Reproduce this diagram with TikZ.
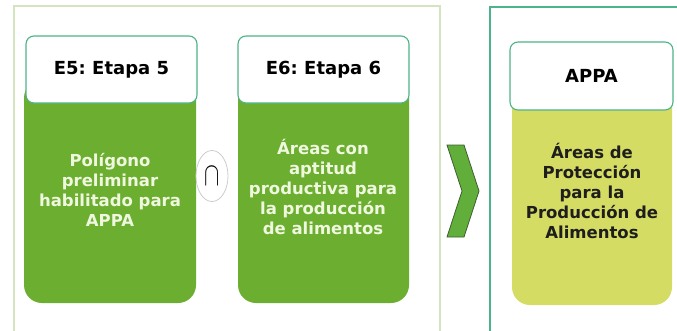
\documentclass[tikz,border=0pt]{standalone}
\usepackage{fontspec}
\setmainfont{DejaVu Sans}
\usetikzlibrary{shapes.geometric}
\frenchspacing
\definecolor{bodygreen}{HTML}{6BAE30}
\definecolor{bodyyellow}{HTML}{D5DC63}
\definecolor{hdrline}{HTML}{4DB387}
\definecolor{frameA}{HTML}{D3E4BE}
\definecolor{frameB}{HTML}{4DB38A}
\definecolor{chevfill}{HTML}{62AE3A}
\definecolor{chevline}{HTML}{3E5E30}
\definecolor{lighttext}{HTML}{F0F7DF}
\definecolor{darktext}{HTML}{1E1E1E}
\begin{document}
\begin{tikzpicture}[x=1pt,y=-1pt,
  hdr/.style={draw=hdrline, line width=1.1pt, fill=white, rounded corners=8pt,
    inner sep=0pt, font=\bfseries\fontsize{18}{22}\selectfont, text=black},
  bodybox/.style={rounded corners=18pt, inner sep=0pt, draw=none},
  bodytext/.style={align=center, inner sep=0pt, font=\bfseries\fontsize{16.5}{20}\selectfont},
  framebox/.style={line width=1.1pt}]
\useasboundingbox (0,0) rectangle (677,330);
\clip (0,0) rectangle (677,330);
% frames
\draw[framebox, draw=frameA] (14,6) rectangle (440,340);
\draw[framebox, draw=frameB] (490,7) rectangle (700,340);
% bodies
\node[bodybox, fill=bodygreen, minimum width=172pt, minimum height=223pt] (e5b) at (110,191.5) {};
\node[bodybox, fill=bodygreen, minimum width=171pt, minimum height=223pt] (e6b) at (323.5,191.5) {};
\node[bodybox, fill=bodyyellow, minimum width=160pt, minimum height=219pt] (appab) at (592,195.5) {};
% headers
\node[hdr, minimum width=171pt, minimum height=67pt] (e5h) at (111.5,69.5) {E5: Etapa 5};
\node[hdr, minimum width=171pt, minimum height=67pt] (e6h) at (323.5,69.5) {E6: Etapa 6};
\node[hdr, minimum width=163pt, minimum height=68pt] (appah) at (591.5,76) {APPA};
% body texts
\node[bodytext, text=lighttext] (e5t) at (110,190) {Polígono\\preliminar\\habilitado para\\APPA};
\node[bodytext, text=lighttext] (e6t) at (323,187) {Áreas con\\aptitud\\productiva para\\la producción\\de alimentos};
\node[bodytext, text=darktext] (appat) at (592,191) {Áreas de\\Protección\\para la\\Producción de\\Alimentos};
% intersection symbol
\node[ellipse, draw=black!20, line width=0.8pt, fill=white, minimum width=32pt, minimum height=51pt,
  inner sep=0pt] (cap) at (212,176) {\scalebox{1.1}[1.6]{\fontsize{20}{20}\selectfont$\cap$}};
% chevron
\draw[fill=chevfill, draw=chevline, line width=0.8pt, line join=miter]
  (447,145) -- (464,145) -- (479,191) -- (464,237) -- (447,237) -- (462,191) -- cycle;
\end{tikzpicture}
\end{document}
